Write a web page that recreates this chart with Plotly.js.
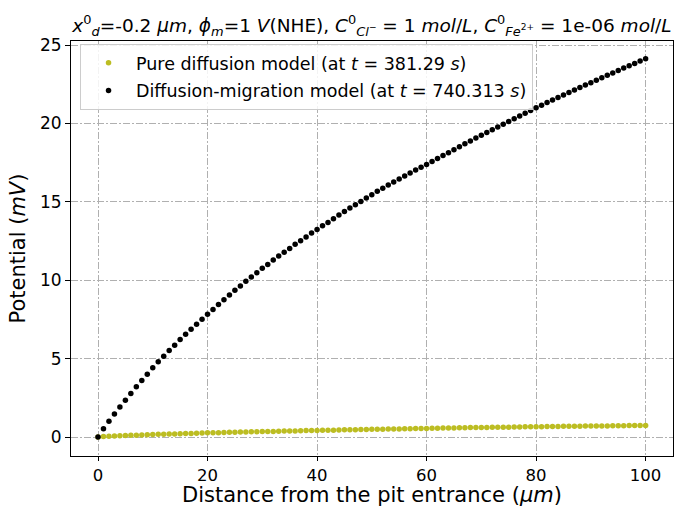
<!DOCTYPE html>
<html><head><meta charset="utf-8">
<script src="https://cdn.plot.ly/plotly-3.0.1.min.js"></script>
<style>html,body{margin:0;padding:0;background:#fff}#chart{width:674px;height:508px}</style>
</head><body><div id="chart"></div>
<script>
const distance = Array.from({length: 101}, (_, i) => i);
const pureDiffusion = [
  0, 0.03, 0.05, 0.07, 0.08, 0.10, 0.11, 0.12, 0.13, 0.15, 0.16,
  0.17, 0.18, 0.19, 0.20, 0.21, 0.22, 0.23, 0.24, 0.26, 0.27,
  0.28, 0.28, 0.29, 0.30, 0.31, 0.32, 0.32, 0.33, 0.34, 0.35,
  0.36, 0.36, 0.37, 0.38, 0.39, 0.39, 0.40, 0.41, 0.41, 0.42,
  0.43, 0.44, 0.44, 0.45, 0.46, 0.46, 0.47, 0.48, 0.48, 0.49,
  0.50, 0.50, 0.51, 0.51, 0.52, 0.53, 0.53, 0.54, 0.54, 0.55,
  0.56, 0.56, 0.57, 0.57, 0.58, 0.59, 0.59, 0.60, 0.60, 0.61,
  0.61, 0.62, 0.62, 0.63, 0.63, 0.64, 0.64, 0.65, 0.65, 0.66,
  0.66, 0.67, 0.67, 0.67, 0.68, 0.68, 0.69, 0.69, 0.70, 0.70,
  0.70, 0.71, 0.71, 0.72, 0.72, 0.72, 0.73, 0.73, 0.74, 0.74
];
const diffusionMigration = [
  0, 0.53, 1.00, 1.47, 1.91, 2.34, 2.78, 3.21, 3.61, 4.01, 4.42,
  4.80, 5.16, 5.52, 5.86, 6.22, 6.56, 6.88, 7.20, 7.52, 7.83,
  8.14, 8.46, 8.76, 9.06, 9.36, 9.63, 9.93, 10.20, 10.48, 10.76,
  11.01, 11.29, 11.54, 11.78, 12.03, 12.29, 12.52, 12.76, 13.01, 13.24,
  13.47, 13.69, 13.93, 14.16, 14.39, 14.61, 14.82, 15.03, 15.24, 15.46,
  15.67, 15.86, 16.07, 16.26, 16.45, 16.65, 16.84, 17.03, 17.20, 17.39,
  17.58, 17.77, 17.95, 18.14, 18.32, 18.51, 18.70, 18.88, 19.07, 19.25,
  19.43, 19.60, 19.78, 19.95, 20.13, 20.30, 20.48, 20.65, 20.83, 21.00,
  21.16, 21.33, 21.49, 21.65, 21.81, 21.97, 22.13, 22.29, 22.45, 22.60,
  22.76, 22.91, 23.07, 23.22, 23.38, 23.53, 23.68, 23.83, 23.98, 24.13
];
const seriesNames = [
  'Pure diffusion model (at <i>t</i> = 381.29 <i>s</i>)',
  'Diffusion-migration model (at <i>t</i> = 740.313 <i>s</i>)'
];
const xTicks = [0, 20, 40, 60, 80, 100];
const yTicks = [0, 5, 10, 15, 20, 25];
const xTitle = 'Distance from the pit entrance (<i>μm</i>)';
const yTitle = 'Potential (<i>mV</i>)';

const font = 'DejaVu Sans, sans-serif';
const traces = [
  {x: distance, y: pureDiffusion, name: seriesNames[0], type: 'scatter', mode: 'markers',
   legendgroup: 'a', marker: {color: '#bcbd22', size: 5.5}},
  {x: distance, y: diffusionMigration, name: seriesNames[1], type: 'scatter', mode: 'markers',
   legendgroup: 'b', marker: {color: '#000000', size: 5.5}}
];
const gridStyle = {showgrid: true, gridcolor: '#b0b0b0', gridwidth: 1, griddash: '7px,2px,2px,2px'};
const layout = {
  width: 674, height: 508,
  margin: {l: 71, r: 1, t: 41, b: 52},
  paper_bgcolor: '#fff', plot_bgcolor: '#fff',
  font: {family: font, color: '#000', size: 17},
  title: {
    text: '<i>x</i><sup>0</sup><sub><i>d</i></sub>=-0.2 <i>μm</i>, <i>ϕ</i><sub><i>m</i></sub>=1 <i>V</i>(NHE), <i>C</i><sup>0</sup><sub><i>Cl</i><sup>−</sup></sub> = 1 <i>mol</i>/<i>L</i>, <i>C</i><sup>0</sup><sub><i>Fe</i><sup>2+</sup></sub> = 1e-06 <i>mol</i>/<i>L</i>',
    font: {family: font, size: 18.5, color: '#000'},
    x: 0.5, xref: 'paper', y: 1, yref: 'paper', yanchor: 'bottom', pad: {b: 9}
  },
  xaxis: Object.assign({
    range: [-4.93, 105], tickvals: xTicks, ticktext: xTicks.map(String),
    ticks: 'outside', ticklen: 4, tickcolor: '#000', tickwidth: 1,
    showline: true, mirror: true, linecolor: '#000', linewidth: 1, zeroline: false,
    tickfont: {family: font, size: 16.5}
  }, gridStyle),
  yaxis: Object.assign({
    range: [-1.21, 25.26], tickvals: yTicks, ticktext: yTicks.map(String),
    ticks: 'outside', ticklen: 5, tickcolor: '#000', tickwidth: 1,
    showline: true, mirror: true, linecolor: '#000', linewidth: 1, zeroline: false,
    tickfont: {family: font, size: 17},
    title: {text: yTitle, font: {family: font, size: 21}, standoff: 8}
  }, gridStyle),
  annotations: [{
    text: xTitle, xref: 'paper', yref: 'paper', x: 0.5, y: -0.1253,
    xanchor: 'center', yanchor: 'bottom', showarrow: false, borderpad: 0,
    font: {family: font, size: 21, color: '#000'}
  }],
  showlegend: true,
  legend: {
    x: 0.015, y: 0.993, xanchor: 'left', yanchor: 'top',
    bgcolor: 'rgba(255,255,255,0.85)', bordercolor: '#cccccc', borderwidth: 1,
    font: {family: font, size: 17.5}, itemwidth: 45, traceorder: 'grouped', tracegroupgap: 2
  }
};
Plotly.newPlot('chart', traces, layout, {displayModeBar: false, staticPlot: true});
</script></body></html>
